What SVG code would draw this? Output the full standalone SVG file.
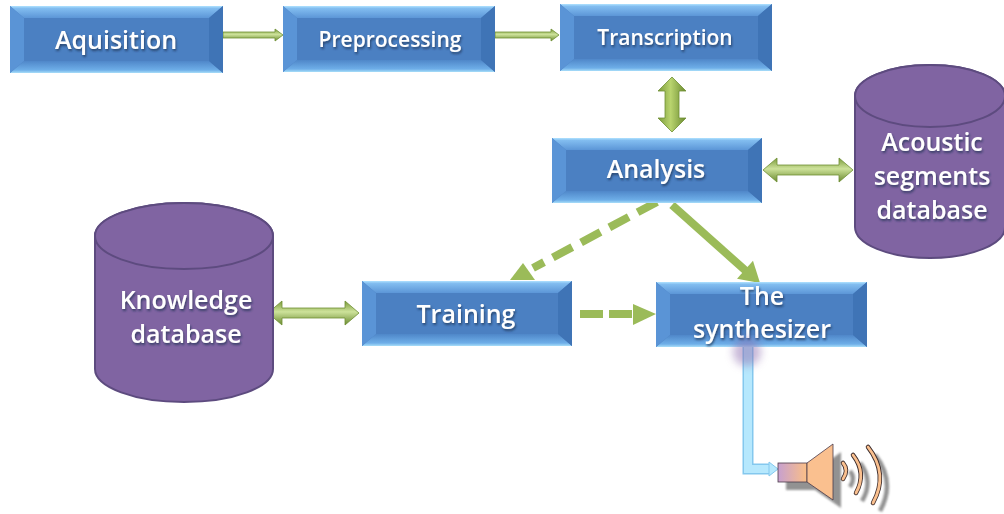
<svg xmlns="http://www.w3.org/2000/svg" width="1004" height="514" viewBox="0 0 1004 514">
<defs>
<style>
.bt{font-family:"Open Sans","Liberation Sans",sans-serif;font-weight:600;fill:#fff;text-anchor:middle;filter:url(#ts)}
.inner{fill:#4b80c2}
.bl{fill:#5a94d6}
.br{fill:#3f74b6}
.btop{fill:url(#bvTop)}
.bbot{fill:url(#bvBot)}
.cyl{fill:#8064a2;stroke:#5d4b7f;stroke-width:2}
.gh{fill:url(#gH);stroke:#6f8f33;stroke-width:0.8}
.gv{fill:url(#gV);stroke:#6f8f33;stroke-width:0.8}
.dash{stroke:#9bbb59;stroke-width:8;fill:none}
.gf{fill:#9bbb59}
</style>
<linearGradient id="bvTop" x1="0" y1="0" x2="0" y2="1">
<stop offset="0" stop-color="#b0e2ff"/><stop offset="0.2" stop-color="#82bdf0"/><stop offset="1" stop-color="#5c96d7"/>
</linearGradient>
<linearGradient id="bvBot" x1="0" y1="0" x2="0" y2="1">
<stop offset="0" stop-color="#4f87c9"/><stop offset="0.75" stop-color="#6eaee8"/><stop offset="1" stop-color="#a8def9"/>
</linearGradient>
<linearGradient id="gH" x1="0" y1="0" x2="0" y2="1">
<stop offset="0" stop-color="#7a9a3a"/><stop offset="0.45" stop-color="#cde29a"/><stop offset="1" stop-color="#6a8a30"/>
</linearGradient>
<linearGradient id="gV" x1="0" y1="0" x2="1" y2="0">
<stop offset="0" stop-color="#7a9a3a"/><stop offset="0.45" stop-color="#b9d46e"/><stop offset="1" stop-color="#6a8a30"/>
</linearGradient>
<linearGradient id="spk" x1="0" y1="0" x2="1" y2="0">
<stop offset="0" stop-color="#c7a0cf"/><stop offset="1" stop-color="#fbbf86"/>
</linearGradient>
<filter id="ts" x="-10%" y="-30%" width="120%" height="160%">
<feDropShadow dx="1" dy="2" stdDeviation="1" flood-color="#1a2e50" flood-opacity="0.7"/>
</filter>
<filter id="blur" x="-50%" y="-50%" width="200%" height="200%">
<feGaussianBlur stdDeviation="4"/>
</filter>
<filter id="blur2" x="-20%" y="-20%" width="140%" height="140%">
<feGaussianBlur stdDeviation="1"/>
</filter>
</defs>
<rect width="1004" height="514" fill="#fff"/>

<g id="connectors">
<path class="gh" d="M223 32 L275 32 L275 29 L283 35 L275 41 L275 38 L223 38 Z"/>
<path class="gh" d="M495 32 L551 32 L551 29 L559 35 L551 41 L551 38 L495 38 Z"/>
<path class="gv" d="M672 77 L686 91 L679 91 L679 118 L686 118 L672 132 L658 118 L665 118 L665 91 L658 91 Z"/>
<path class="gh" d="M763 170 L777 158 L777 165 L839 165 L839 158 L853 170 L839 182 L839 175 L777 175 L777 182 Z"/>
<path class="gh" d="M268 313 L282 301 L282 308 L345 308 L345 301 L359 313 L345 325 L345 318 L282 318 L282 325 Z"/>
<line class="dash" x1="657" y1="202" x2="533" y2="268" stroke-dasharray="22 10"/>
<polygon class="gf" points="523,263 510,280 535,280"/>
<line class="dash" x1="580" y1="314" x2="633" y2="314" stroke-dasharray="23 6"/>
<polygon class="gf" points="633,304 656,314 633,325"/>
<line stroke="#9bbb59" stroke-width="8" x1="672" y1="205" x2="746" y2="271"/>
<polygon class="gf" points="760,283 737,278.7 753,260.7"/>
<path d="M748 343 L748 469 L770 469" fill="none" stroke="#84c8ee" stroke-width="11"/>
<path d="M748 343 L748 469 L770 469" fill="none" stroke="#b6e8fd" stroke-width="8"/>
<polygon points="769,462 778,469 769,476" fill="#b6e8fd" stroke="#84c8ee" stroke-width="1"/>
</g>

<g id="aquisition">
<rect x="10" y="6" width="213" height="67" class="inner"/>
<polygon class="btop" points="10,6 223,6 209,18 24,18"/>
<polygon class="bbot" points="10,73 223,73 209,61 24,61"/>
<polygon class="bl" points="10,6 24,18 24,61 10,73"/>
<polygon class="br" points="223,6 209,18 209,61 223,73"/>
<text class="bt" x="116" y="49" font-size="25">Aquisition</text>
</g>

<g id="preprocessing">
<rect x="283" y="6" width="212" height="66" class="inner"/>
<polygon class="btop" points="283,6 495,6 481,18 297,18"/>
<polygon class="bbot" points="283,72 495,72 481,60 297,60"/>
<polygon class="bl" points="283,6 297,18 297,60 283,72"/>
<polygon class="br" points="495,6 481,18 481,60 495,72"/>
<text class="bt" x="390" y="47" font-size="21">Preprocessing</text>
</g>

<g id="transcription">
<rect x="560" y="4" width="212" height="67" class="inner"/>
<polygon class="btop" points="560,4 772,4 758,16 574,16"/>
<polygon class="bbot" points="560,71 772,71 758,59 574,59"/>
<polygon class="bl" points="560,4 574,16 574,59 560,71"/>
<polygon class="br" points="772,4 758,16 758,59 772,71"/>
<text class="bt" x="665" y="45" font-size="21">Transcription</text>
</g>

<g id="analysis">
<rect x="552" y="138" width="210" height="65" class="inner"/>
<polygon class="btop" points="552,138 762,138 748,150 566,150"/>
<polygon class="bbot" points="552,203 762,203 748,191 566,191"/>
<polygon class="bl" points="552,138 566,150 566,191 552,203"/>
<polygon class="br" points="762,138 748,150 748,191 762,203"/>
<text class="bt" x="656" y="178" font-size="25">Analysis</text>
</g>

<g id="training">
<rect x="362" y="281" width="210" height="65" class="inner"/>
<polygon class="btop" points="362,281 572,281 558,293 376,293"/>
<polygon class="bbot" points="362,346 572,346 558,334 376,334"/>
<polygon class="bl" points="362,281 376,293 376,334 362,346"/>
<polygon class="br" points="572,281 558,293 558,334 572,346"/>
<text class="bt" x="466" y="323" font-size="25">Training</text>
</g>

<g id="synthesizer">
<rect x="656" y="282" width="211" height="65" class="inner"/>
<polygon class="btop" points="656,282 867,282 853,294 670,294"/>
<polygon class="bbot" points="656,347 867,347 853,335 670,335"/>
<polygon class="bl" points="656,282 670,294 670,335 656,347"/>
<polygon class="br" points="867,282 853,294 853,335 867,347"/>
<text class="bt" x="762" y="305" font-size="25">The</text>
<text class="bt" x="762" y="338" font-size="25">synthesizer</text>
<ellipse cx="747" cy="352" rx="14" ry="14" fill="#9070b0" opacity="0.5" filter="url(#blur)"/>
</g>

<g id="acoustic-db">
<path class="cyl" d="M855 96 A75 31 0 0 1 1005 96 L1005 227 A75 31 0 0 1 855 227 Z"/>
<ellipse class="cyl" cx="930" cy="96" rx="75" ry="31"/>
<text class="bt" x="932" y="151" font-size="25">Acoustic</text>
<text class="bt" x="932" y="185" font-size="25">segments</text>
<text class="bt" x="932" y="219" font-size="25">database</text>
</g>

<g id="knowledge-db">
<path class="cyl" d="M95 236 A89 33 0 0 1 273 236 L273 369 A89 33 0 0 1 95 369 Z"/>
<ellipse class="cyl" cx="184" cy="236" rx="89" ry="33"/>
<text class="bt" x="186" y="309" font-size="25">Knowledge</text>
<text class="bt" x="186" y="343" font-size="25">database</text>
</g>

<g id="speaker">
<polygon points="786,471 815,471 841,452 841,508 815,490 786,490" fill="#808080" opacity="0.85" filter="url(#blur2)"/>
<g fill="none" stroke="#808080" stroke-width="4.5" opacity="0.85" filter="url(#blur2)">
<path d="M850 471 Q856 478 850 487"/>
<path d="M860 463 Q874 481 862 501"/>
<path d="M875 455 Q896 482 880 511"/>
</g>
<rect x="778" y="463" width="29" height="19" fill="url(#spk)" stroke="#4a3a4a" stroke-width="0.8"/>
<polygon points="807,463 833,444 833,500 807,482" fill="#fac08f" stroke="#4a3a4a" stroke-width="0.8"/>
<g fill="none" stroke="#3a2a2a" stroke-width="4.5" stroke-linecap="round">
<path d="M843 463 Q849 470 843 479"/>
<path d="M853 455 Q867 473 856 493"/>
<path d="M868 447 Q889 474 873 503"/>
</g>
<g fill="none" stroke="#fac08f" stroke-width="2.8" stroke-linecap="round">
<path d="M843 463 Q849 470 843 479"/>
<path d="M853 455 Q867 473 856 493"/>
<path d="M868 447 Q889 474 873 503"/>
</g>
</g>
</svg>
